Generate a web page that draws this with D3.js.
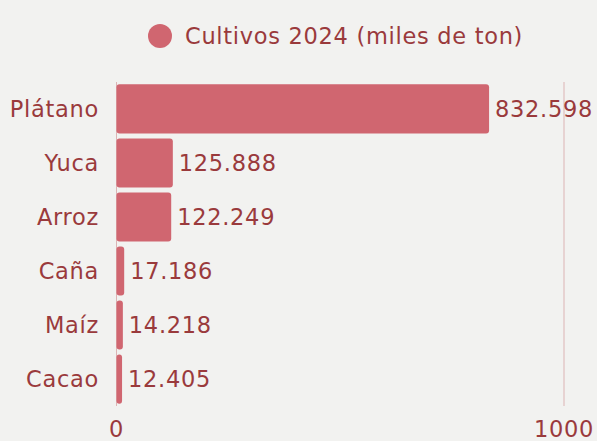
<!doctype html>
<html lang="es">
<head>
<meta charset="utf-8">
<title>Cultivos 2024</title>
<script src="https://cdn.jsdelivr.net/npm/d3@7"></script>
<style>
  html, body { margin: 0; padding: 0; background: #f2f2f0; }
  svg { display: block; }
  text { font-family: "DejaVu Sans", sans-serif; fill: #9a3a3c; letter-spacing: 0.7px; }
</style>
</head>
<body>
<svg id="chart" width="597" height="441"></svg>
<script>
// datos del gráfico
var categorias = ["Plátano", "Yuca", "Arroz", "Caña", "Maíz", "Cacao"];
var valores = [832.598, 125.888, 122.249, 17.186, 14.218, 12.405];
var etiquetas = ["832.598", "125.888", "122.249", "17.186", "14.218", "12.405"];
var ticks = [0, 1000];
var serie = "Cultivos 2024 (miles de ton)";

var svg = d3.select("#chart");
var barColor = "#d06670";
var fs = 22.5;

var x = d3.scaleLinear().domain([0, 1000]).range([116.5, 564]);
var y = d3.scaleBand().domain(categorias).range([79.5, 408.5]).padding(0.09);

// linea de la grilla en 1000 y eje en 0
svg.selectAll("line.grid").data(ticks).enter().append("line")
  .attr("class", "grid")
  .attr("x1", d => x(d)).attr("x2", d => x(d))
  .attr("y1", 82).attr("y2", 406)
  .attr("stroke", "#dcb4b4").attr("stroke-width", 1);

svg.selectAll("rect.bar").data(valores).enter().append("rect")
  .attr("class", "bar")
  .attr("x", x(0))
  .attr("y", (d, i) => y(categorias[i]))
  .attr("width", d => x(d) - x(0))
  .attr("height", y.bandwidth())
  .attr("rx", 3)
  .attr("fill", barColor);

svg.selectAll("text.val").data(valores).enter().append("text")
  .attr("class", "val")
  .attr("x", d => x(d) + 6)
  .attr("y", (d, i) => y(categorias[i]) + y.bandwidth() / 2)
  .attr("dy", "0.36em")
  .attr("font-size", fs)
  .text((d, i) => etiquetas[i]);

svg.selectAll("text.cat").data(categorias).enter().append("text")
  .attr("class", "cat")
  .attr("x", 99)
  .attr("y", d => y(d) + y.bandwidth() / 2)
  .attr("dy", "0.36em")
  .attr("text-anchor", "end")
  .attr("font-size", fs)
  .text(d => d);

svg.selectAll("text.tick").data(ticks).enter().append("text")
  .attr("class", "tick")
  .attr("x", d => x(d))
  .attr("y", 429)
  .attr("dy", "0.36em")
  .attr("text-anchor", "middle")
  .attr("font-size", fs)
  .text(d => d);

// leyenda
svg.append("circle")
  .attr("cx", 160).attr("cy", 36).attr("r", 12)
  .attr("fill", barColor);
svg.append("text")
  .attr("x", 185).attr("y", 36)
  .attr("dy", "0.36em")
  .attr("font-size", fs)
  .text(serie);
</script>
</body>
</html>
